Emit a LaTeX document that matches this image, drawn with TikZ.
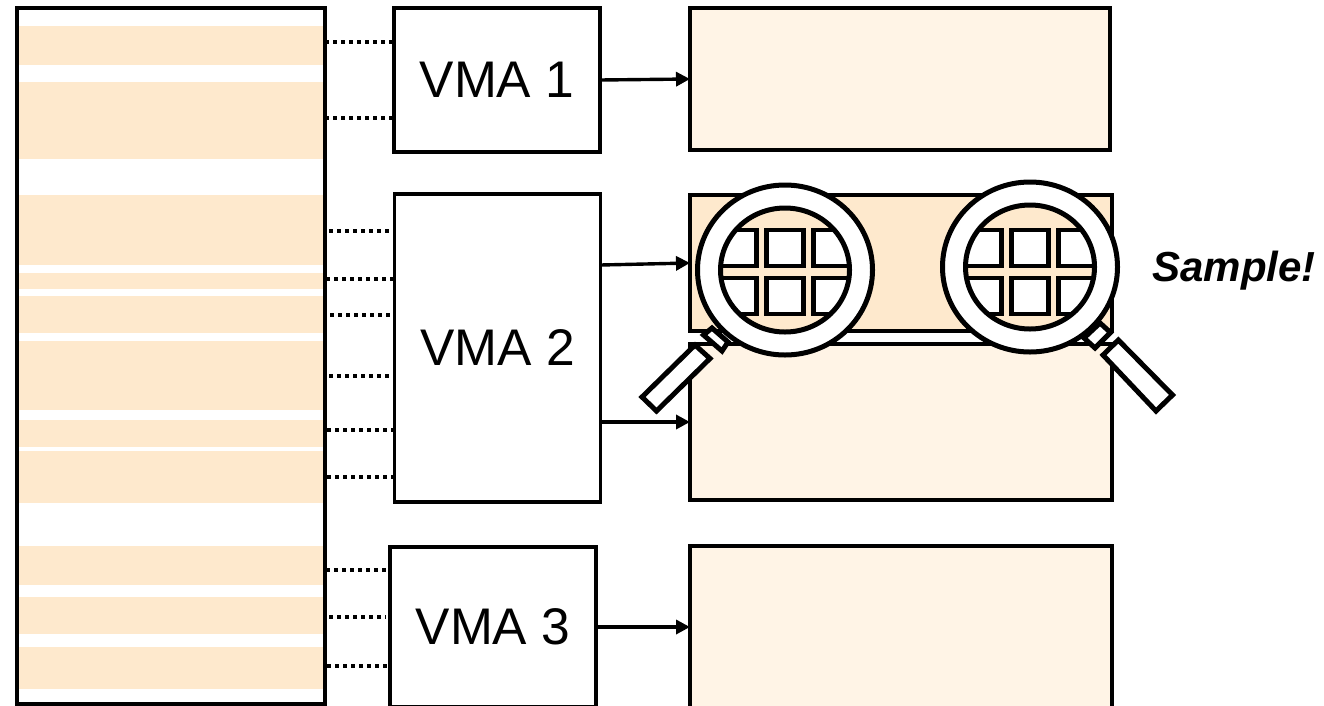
\documentclass[tikz,border=0pt]{standalone}
\usepackage{fontspec}
\setmainfont{Liberation Sans}
\usetikzlibrary{arrows.meta}
\definecolor{slotdark}{RGB}{254, 233, 205}
\definecolor{slotlight}{RGB}{255, 244, 230}

\begin{document}
\begin{tikzpicture}[
    x=1pt, y=-1pt,
    memory/.style={rectangle, draw=black, line width=3.5pt, inner sep=0pt, outer sep=0pt},
    vma/.style={memory, fill=white, minimum width=206pt, font=\fontsize{51.5}{60}\selectfont},
    dotlink/.style={line width=3.8pt, dash pattern=on 4pt off 4pt},
    arrow/.style={-{Stealth[length=14pt, width=14pt, inset=0pt]}, line width=3.4pt},
    lens/.style={draw=black, line width=5pt, line join=miter},
    tile/.style={draw=black, fill=white, line width=4.2pt}
]
    \useasboundingbox (0,0) rectangle (1324,705);

    % Stripes in the address space
    \foreach \ya/\yb in {26/65, 82/159, 195/265, 273/289, 296/333, 341/410, 420/447, 451/503, 546/585, 597/634, 647/689}
        \fill[slotdark] (19,\ya) rectangle (323,\yb);
    \node[memory, minimum width=308pt, minimum height=696pt] (space) at (171,356) {};

    % VMAs
    \node[vma, minimum height=144pt] (vma1) at (497,80) {VMA 1};
    \node[vma, minimum height=308pt] (vma2) at (497.5,348) {VMA 2};
    \node[vma, minimum height=160pt] (vma3) at (493,627) {VMA 3};

    % Physical ranges
    \node[memory, fill=slotlight, minimum width=420pt, minimum height=142pt] (range1) at (900,79) {};
    \node[memory, fill=slotdark, minimum width=422pt, minimum height=136pt] (range2a) at (901,263) {};
    \node[memory, fill=slotlight, minimum width=422pt, minimum height=156pt] (range2b) at (901,422) {};
    \node[memory, fill=slotlight, minimum width=422pt, minimum height=162pt] (range3) at (901,627) {};

    % Dotted links
    \foreach \y in {42,118}
        \draw[dotlink] (space.east |- 0,\y) -- (vma1.west |- 0,\y);
    \foreach \y/\gap in {231/4, 279/1, 315/5, 376/4, 430/2, 477/2}
        \draw[dotlink, shorten >=\gap pt, shorten <=\gap pt] (space.east |- 0,\y) -- (vma2.west |- 0,\y);
    \foreach \y/\gap in {570/1, 617/4, 666/2}
        \draw[dotlink, shorten >=\gap pt, shorten <=\gap pt] (space.east |- 0,\y) -- (vma3.west |- 0,\y);

    % Arrows
    \draw[arrow] (vma1.east) -- (range1.west);
    \draw[arrow] (vma2.east |- 0,265) -- (range2a.west);
    \draw[arrow] (vma2.east |- range2b.west) -- (range2b.west);
    \draw[arrow] (vma3.east) -- (range3.west);

    % Magnifier handles
    \draw[lens, fill=white] (712,328) -- (728,342) -- (722,351) -- (703.5,335) -- cycle;
    \draw[lens, fill=white] (695,345) -- (710,358.5) -- (656.5,411) -- (642,397) -- cycle;
    \draw[lens, fill=white] (1100,323) -- (1110.5,332.5) -- (1095,348) -- (1084,338) -- cycle;
    \draw[lens, fill=white] (1118.3,340) -- (1172.5,395) -- (1156,411) -- (1103,355) -- cycle;

    % Magnifier lenses
    \foreach \mx/\my in {785/270, 1030/267} {
        \draw[lens, fill=white] (\mx,\my) ellipse [x radius=87.5, y radius=85];
        \fill[slotdark] (\mx,\my) ellipse [x radius=64.5, y radius=62];
        \begin{scope}
            \clip (\mx,\my) ellipse [x radius=64.5, y radius=62];
            \foreach \dx in {-47,0,47}
                \foreach \y in {230,278}
                    \draw[tile] ({\mx+\dx-18.5},\y) rectangle ++(37,36);
        \end{scope}
        \draw[lens] (\mx,\my) ellipse [x radius=64.5, y radius=62];
    }

    \node[font=\fontsize{42}{50}\selectfont\bfseries\itshape] (sample) at (1234,271) {Sample!};
\end{tikzpicture}
\end{document}
